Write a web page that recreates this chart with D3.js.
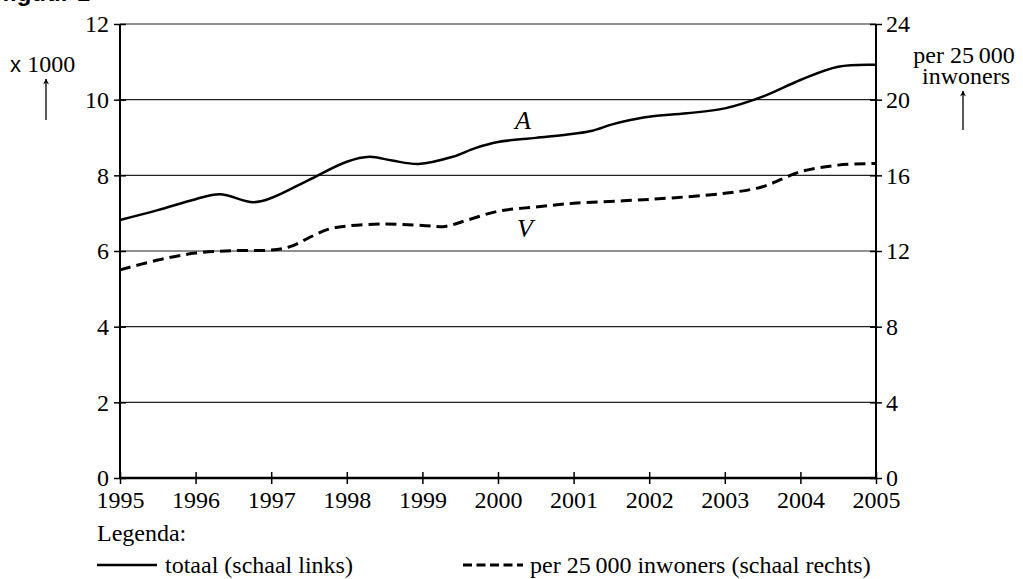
<!DOCTYPE html>
<html>
<head>
<meta charset="utf-8">
<script src="https://cdn.jsdelivr.net/npm/d3@7"></script>
<style>
  body { margin: 0; background: #fff; }
  svg { display: block; }
  text { font-family: "Liberation Serif", "Times New Roman", serif; fill: #000; }
</style>
</head>
<body>
<svg id="chart"></svg>
<script>
// years and values
var yearsA = [1995, 1995.5, 1996, 1996.32, 1996.76, 1997, 1997.5, 1998, 1998.3, 1998.6, 1998.95, 1999.4, 1999.7, 2000, 2000.5, 2001, 2001.25, 2001.5, 2001.75, 2002, 2002.5, 2003, 2003.5, 2004, 2004.5, 2005];
var totaal = [6.82, 7.08, 7.37, 7.5, 7.29, 7.4, 7.88, 8.36, 8.49, 8.39, 8.30, 8.49, 8.72, 8.88, 8.99, 9.1, 9.18, 9.34, 9.46, 9.55, 9.64, 9.77, 10.08, 10.52, 10.87, 10.92];

var yearsV = [1995, 1995.5, 1996, 1996.5, 1997, 1997.25, 1997.5, 1997.75, 1998, 1998.5, 1999, 1999.3, 1999.6, 2000, 2000.5, 2001, 2002, 2003, 2003.5, 2004, 2004.5, 2005];
var perInw = [11.0, 11.52, 11.89, 12.02, 12.05, 12.23, 12.7, 13.14, 13.32, 13.43, 13.35, 13.3, 13.64, 14.1, 14.33, 14.52, 14.73, 15.05, 15.4, 16.19, 16.54, 16.63];

var xTicks = [1995, 1996, 1997, 1998, 1999, 2000, 2001, 2002, 2003, 2004, 2005];
var leftTicks = [0, 2, 4, 6, 8, 10, 12];
var rightTicks = [0, 4, 8, 12, 16, 20, 24];

var width = 1023, height = 579;
var mLeft = 120, mRight = 876, mTop = 24, mBottom = 478;

var svg = d3.select("#chart").attr("width", width).attr("height", height);

var x = d3.scaleLinear().domain([1995, 2005]).range([mLeft, mRight]);
var yL = d3.scaleLinear().domain([0, 12]).range([mBottom, mTop]);
var yR = d3.scaleLinear().domain([0, 24]).range([mBottom, mTop]);

// title, cut off at the top of the picture
svg.append("text")
    .attr("x", 2).attr("y", 1)
    .style("font-family", "'Liberation Sans', Arial, sans-serif")
    .style("font-weight", "bold")
    .style("font-size", "24px")
    .text("figuur 1");

// grid lines
svg.append("g").selectAll("line")
    .data(leftTicks.filter(function(d) { return d > 0; }))
    .enter().append("line")
    .attr("x1", mLeft).attr("x2", mRight)
    .attr("y1", function(d) { return yL(d); })
    .attr("y2", function(d) { return yL(d); })
    .attr("stroke", "#222").attr("stroke-width", 1.2);

function styleAxis(g) {
    g.select(".domain").remove();
    g.selectAll("text").style("font-size", "24px").attr("fill", "#000")
        .style("font-family", "'Liberation Serif', serif");
    g.selectAll("line").attr("stroke", "#000").attr("stroke-width", 1.5);
}

var axL = svg.append("g")
    .attr("transform", "translate(" + mLeft + ",0)")
    .call(d3.axisLeft(yL).tickValues(leftTicks).tickSize(6).tickPadding(5))
    .call(styleAxis);
axL.selectAll("line").attr("x1", 6);

var axR = svg.append("g")
    .attr("transform", "translate(" + mRight + ",0)")
    .call(d3.axisRight(yR).tickValues(rightTicks).tickSize(6).tickPadding(4))
    .call(styleAxis);
axR.selectAll("line").attr("x1", -6);

var axB = svg.append("g")
    .attr("transform", "translate(0," + mBottom + ")")
    .call(d3.axisBottom(x).tickValues(xTicks).tickFormat(d3.format("d")).tickSize(6).tickPadding(6))
    .call(styleAxis);
axB.selectAll("line").attr("y1", -6);
axB.selectAll("text").attr("dy", "0.75em");

// axis lines
svg.append("line").attr("x1", mLeft).attr("x2", mLeft).attr("y1", mTop).attr("y2", mBottom)
    .attr("stroke", "#000").attr("stroke-width", 2);
svg.append("line").attr("x1", mRight).attr("x2", mRight).attr("y1", mTop).attr("y2", mBottom)
    .attr("stroke", "#000").attr("stroke-width", 2);
svg.append("line").attr("x1", mLeft).attr("x2", mRight).attr("y1", mBottom).attr("y2", mBottom)
    .attr("stroke", "#000").attr("stroke-width", 2.5);

// arrow marker
svg.append("defs").append("marker")
    .attr("id", "arrow")
    .attr("viewBox", "0 0 10 10")
    .attr("refX", 5).attr("refY", 1)
    .attr("markerWidth", 6).attr("markerHeight", 9)
    .attr("orient", "0")
    .attr("markerUnits", "userSpaceOnUse")
    .append("path")
    .attr("d", "M0,10 L5,0 L10,10 L5,7 Z")
    .attr("fill", "#000");

// left unit label
var lu = svg.append("text").attr("x", 10).attr("y", 72).style("font-size", "24px");
lu.append("tspan").style("font-family", "'Liberation Sans', Arial, sans-serif").style("font-size", "22px").text("x ");
lu.append("tspan").text("1000");
svg.append("line").attr("x1", 46).attr("x2", 46).attr("y1", 120).attr("y2", 79)
    .attr("stroke", "#000").attr("stroke-width", 1.3).attr("marker-end", "url(#arrow)");

// right unit label
svg.append("text").attr("x", 964).attr("y", 63).attr("text-anchor", "middle")
    .style("font-size", "24px").text("per 25\u2009000");
svg.append("text").attr("x", 966).attr("y", 84).attr("text-anchor", "middle")
    .style("font-size", "24px").text("inwoners");
svg.append("line").attr("x1", 963).attr("x2", 963).attr("y1", 130).attr("y2", 91)
    .attr("stroke", "#000").attr("stroke-width", 1.3).attr("marker-end", "url(#arrow)");

// lines
var lineA = d3.line()
    .x(function(d, i) { return x(yearsA[i]); })
    .y(function(d) { return yL(d); })
    .curve(d3.curveCatmullRom.alpha(0.5));

var lineV = d3.line()
    .x(function(d, i) { return x(yearsV[i]); })
    .y(function(d) { return yR(d); })
    .curve(d3.curveCatmullRom.alpha(0.5));

svg.append("path").datum(totaal)
    .attr("d", lineA)
    .attr("fill", "none").attr("stroke", "#000").attr("stroke-width", 2.5);

svg.append("path").datum(perInw)
    .attr("d", lineV)
    .attr("fill", "none").attr("stroke", "#000").attr("stroke-width", 3)
    .attr("stroke-dasharray", "11,6");

// curve labels
svg.append("text").attr("x", 523).attr("y", 129).attr("text-anchor", "middle")
    .style("font-size", "26px").style("font-style", "italic").text("A");
svg.append("text").attr("x", 525).attr("y", 237).attr("text-anchor", "middle")
    .style("font-size", "26px").style("font-style", "italic").text("V");

// legend
svg.append("text").attr("x", 97).attr("y", 541).style("font-size", "24px").text("Legenda:");
svg.append("line").attr("x1", 97).attr("x2", 157).attr("y1", 565).attr("y2", 565)
    .attr("stroke", "#000").attr("stroke-width", 2.5);
svg.append("text").attr("x", 165).attr("y", 573).style("font-size", "24px").text("totaal (schaal links)");
svg.append("line").attr("x1", 463).attr("x2", 523).attr("y1", 565).attr("y2", 565)
    .attr("stroke", "#000").attr("stroke-width", 3).attr("stroke-dasharray", "9,4.5");
svg.append("text").attr("x", 530).attr("y", 573).style("font-size", "24px").text("per 25\u2009000 inwoners (schaal rechts)");
</script>
</body>
</html>
